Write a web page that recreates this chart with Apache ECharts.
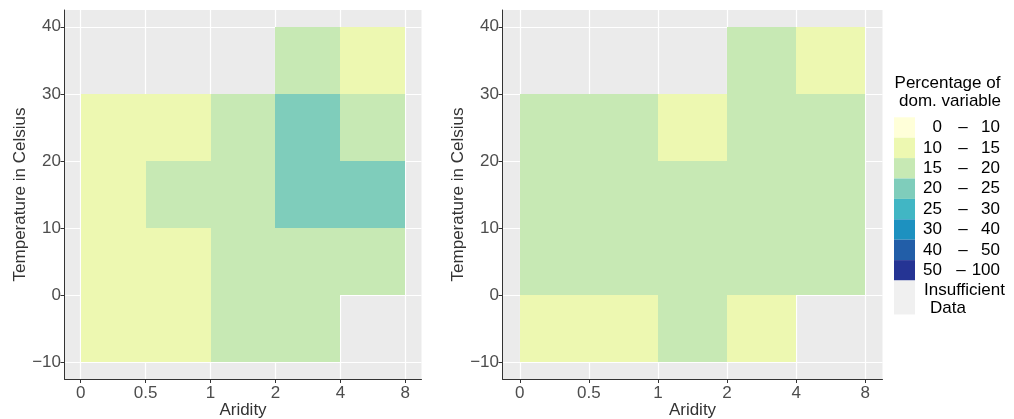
<!DOCTYPE html>
<html>
<head>
<meta charset="utf-8">
<script src="https://cdn.jsdelivr.net/npm/echarts@6/dist/echarts.min.js"></script>
<style>
  html, body { margin: 0; padding: 0; background: #fff; }
  #main { width: 1014px; height: 419px; }
</style>
</head>
<body>
<div id="main"></div>
<script>
// aridity band edges (tick labels) and temperature band edges
var aridityTicks = ['0', '0.5', '1', '2', '4', '8'];
var tempTicks = [-10, 0, 10, 20, 30, 40];

// class index per cell: rows = temperature bands (from -10..0 upward), cols = aridity bands
// null = insufficient data (no tile)
var classesLeft = [
  [1, 1, 2, 2, null],   // -10..0
  [1, 1, 2, 2, 2],      // 0..10
  [1, 2, 2, 3, 3],      // 10..20
  [1, 1, 2, 3, 2],      // 20..30
  [null, null, null, 2, 1] // 30..40
];
var classesRight = [
  [1, 1, 2, 1, null],
  [2, 2, 2, 2, 2],
  [2, 2, 2, 2, 2],
  [2, 2, 1, 2, 2],
  [null, null, null, 2, 1]
];

// legend classes
var classLow = ['0', '10', '15', '20', '25', '30', '40', '50'];
var classHigh = ['10', '15', '20', '25', '30', '40', '50', '100'];
var classColors = ['#FFFFD9', '#EDF8B1', '#C7E9B4', '#7FCDBB', '#41B6C4', '#1D91C0', '#225EA8', '#253494'];
var naColor = '#F0F0F0';

var FONT = 'Liberation Sans';
var FS = 17;

function cells(matrix) {
  var out = [];
  for (var r = 0; r < matrix.length; r++) {
    for (var c = 0; c < matrix[r].length; c++) {
      if (matrix[r][c] === null) continue;
      out.push([c, c + 1, tempTicks[r], tempTicks[r + 1], matrix[r][c]]);
    }
  }
  return out;
}

function renderTile(params, api) {
  var p0 = api.coord([api.value(0), api.value(3)]);
  var p1 = api.coord([api.value(1), api.value(2)]);
  var x0 = Math.round(p0[0]), y0 = Math.round(p0[1]);
  var x1 = Math.round(p1[0]), y1 = Math.round(p1[1]);
  return {
    type: 'rect',
    shape: { x: x0, y: y0, width: x1 - x0, height: y1 - y0 },
    style: { fill: classColors[api.value(4)] }
  };
}

function xAxisOpt(idx) {
  return {
    type: 'value', gridIndex: idx, min: -0.25, max: 5.25,
    name: 'Aridity', nameLocation: 'middle', nameGap: 23, nameMoveOverlap: false,
    nameTextStyle: { fontFamily: FONT, fontSize: FS, color: '#333' },
    axisLine: { show: true, onZero: false, lineStyle: { color: '#333', width: 1 } },
    axisTick: { show: true, length: 4, lineStyle: { color: '#333' }, customValues: [0, 1, 2, 3, 4, 5] },
    axisLabel: {
      fontFamily: FONT, fontSize: FS, color: '#4D4D4D', margin: 6,
      customValues: [0, 1, 2, 3, 4, 5],
      formatter: function (v) { return Number.isInteger(v) ? aridityTicks[v] : ''; }
    },
    splitLine: { show: true, lineStyle: { color: '#fff', width: 1.2 } }
  };
}

function yAxisOpt(idx) {
  return {
    type: 'value', gridIndex: idx, min: -12.5, max: 42.5,
    name: 'Temperature in Celsius', nameLocation: 'middle', nameGap: 36, nameMoveOverlap: false,
    nameTextStyle: { fontFamily: FONT, fontSize: FS, color: '#333' },
    axisLine: { show: true, onZero: false, lineStyle: { color: '#333', width: 1 } },
    axisTick: { show: true, length: 4, lineStyle: { color: '#333' }, customValues: tempTicks },
    axisLabel: {
      fontFamily: FONT, fontSize: FS, color: '#4D4D4D', margin: 3.5,
      customValues: tempTicks,
      formatter: function (v) { return v < 0 ? '\u2212' + Math.abs(v) : String(v); }
    },
    splitLine: { show: true, lineStyle: { color: '#fff', width: 1.2 } }
  };
}

// legend built from the class arrays
var legend = [];
legend.push({ type: 'text', x: 947.5, y: 83.5, style: { text: 'Percentage of', align: 'center', verticalAlign: 'middle', fontFamily: FONT, fontSize: FS, fill: '#000' } });
legend.push({ type: 'text', x: 950, y: 101.7, style: { text: 'dom. variable', align: 'center', verticalAlign: 'middle', fontFamily: FONT, fontSize: FS, fill: '#000' } });
var boxTop = 117.3, boxH = 20.4;
for (var i = 0; i < classColors.length; i++) {
  var y = boxTop + i * boxH;
  legend.push({ type: 'rect', shape: { x: 894, y: y, width: 21, height: boxH }, style: { fill: classColors[i] } });
  var cy = y + boxH / 2;
  legend.push({ type: 'text', x: 942, y: cy, style: { text: classLow[i], align: 'right', verticalAlign: 'middle', fontFamily: FONT, fontSize: FS, fill: '#000' } });
  legend.push({ type: 'text', x: i === classColors.length - 1 ? 961 : 963, y: cy, style: { text: '\u2013', align: 'center', verticalAlign: 'middle', fontFamily: FONT, fontSize: FS, fill: '#000' } });
  legend.push({ type: 'text', x: 1000, y: cy, style: { text: classHigh[i], align: 'right', verticalAlign: 'middle', fontFamily: FONT, fontSize: FS, fill: '#000' } });
}
var naTop = boxTop + classColors.length * boxH;
legend.push({ type: 'rect', shape: { x: 894, y: naTop, width: 21, height: 34 }, style: { fill: naColor } });
legend.push({ type: 'text', x: 924, y: naTop + 10, style: { text: 'Insufficient', verticalAlign: 'middle', fontFamily: FONT, fontSize: FS, fill: '#000' } });
legend.push({ type: 'text', x: 930, y: naTop + 27.5, style: { text: 'Data', verticalAlign: 'middle', fontFamily: FONT, fontSize: FS, fill: '#000' } });

var myChart = echarts.init(document.getElementById('main'));
var option = {
  animation: false,
  grid: [
    { left: 64.5, top: 10, width: 357, height: 369, show: true, backgroundColor: '#EBEBEB', borderWidth: 0, outerBoundsMode: 'none', containLabel: false },
    { left: 502.5, top: 10, width: 380, height: 369, show: true, backgroundColor: '#EBEBEB', borderWidth: 0, outerBoundsMode: 'none', containLabel: false }
  ],
  xAxis: [xAxisOpt(0), xAxisOpt(1)],
  yAxis: [yAxisOpt(0), yAxisOpt(1)],
  series: [
    { type: 'custom', xAxisIndex: 0, yAxisIndex: 0, renderItem: renderTile, data: cells(classesLeft), encode: { x: [0, 1], y: [2, 3] } },
    { type: 'custom', xAxisIndex: 1, yAxisIndex: 1, renderItem: renderTile, data: cells(classesRight), encode: { x: [0, 1], y: [2, 3] } }
  ],
  graphic: legend
};
myChart.setOption(option);
</script>
</body>
</html>
